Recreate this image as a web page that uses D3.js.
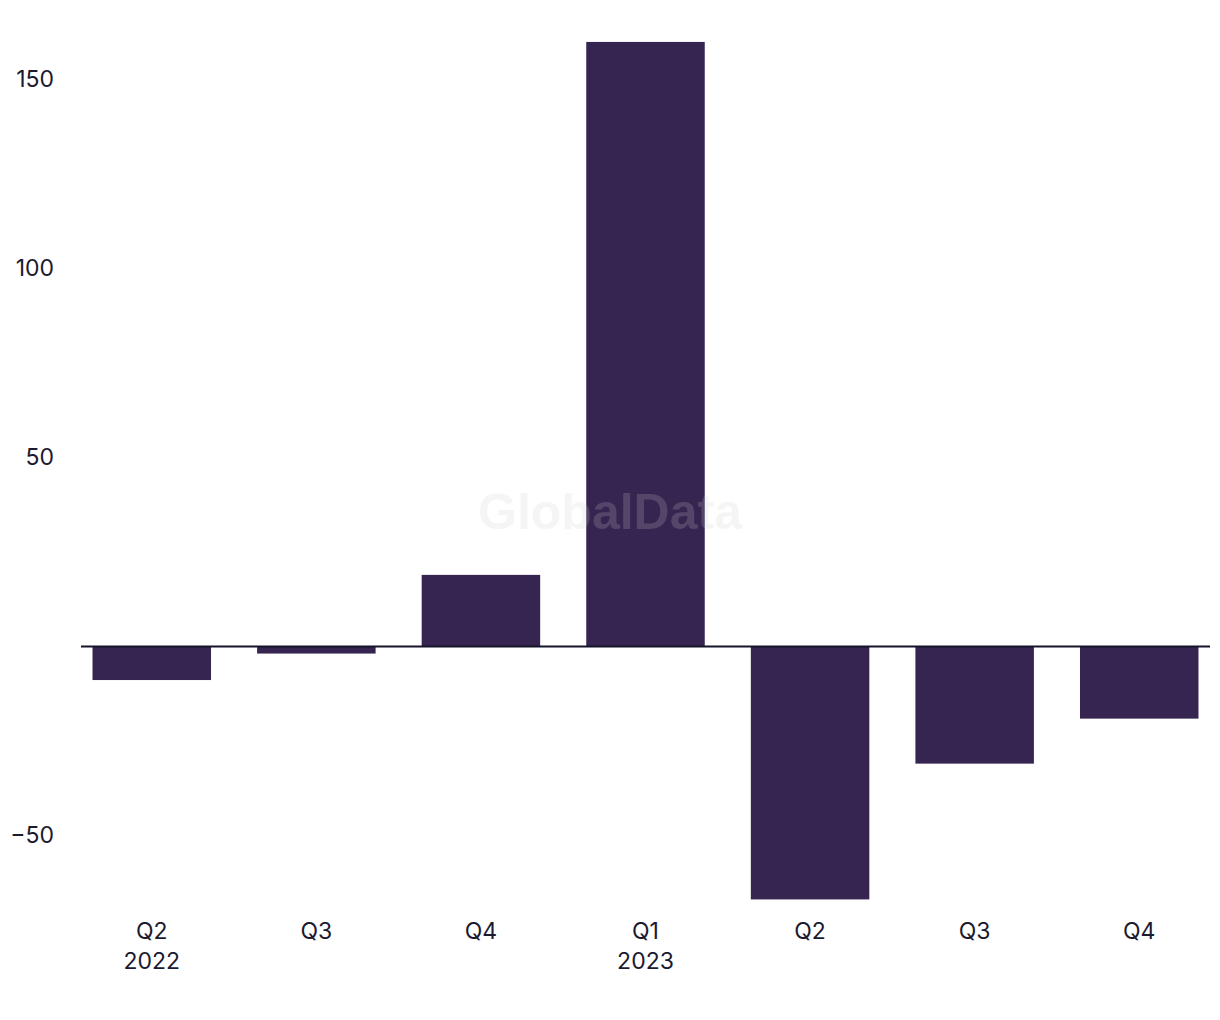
<!DOCTYPE html>
<html><head><meta charset="utf-8">
<script src="https://cdn.jsdelivr.net/npm/d3@7"></script>
<style>body{margin:0;background:#fff}svg{display:block}</style>
</head><body>
<script>
const categories = ["Q2 2022","Q3 2022","Q4 2022","Q1 2023","Q2 2023","Q3 2023","Q4 2023"];
const quarterLabels = ["Q2","Q3","Q4","Q1","Q2","Q3","Q4"];
const yearLabels = ["2022","","","2023","","",""];
const values = [-8.9, -1.9, 18.9, 159.8, -66.9, -31.0, -19.1];
const yTicks = [-50, 50, 100, 150];

const W = 1220, H = 1020;
const svg = d3.select("body").append("svg").attr("width", W).attr("height", H);

const x = d3.scaleBand().domain(categories).range([81, 1210]).paddingInner(0.28).paddingOuter(0.07);
const y = d3.scaleLinear().domain([-50, 150]).range([835.5, 79]);

const font = "Inter, 'Liberation Sans', sans-serif";
const textColor = "#1b1a2e";

// y axis labels
const yAxis = d3.axisLeft(y).tickValues(yTicks).tickSize(0).tickPadding(0).tickFormat(d => d < 0 ? "\u2212" + Math.abs(d) : d);
const gy = svg.append("g").attr("transform", "translate(54,0)").call(yAxis);
gy.select(".domain").remove();
gy.selectAll("text").attr("font-family", font).attr("font-size", 23).attr("fill", textColor);

// bars
svg.append("g").selectAll("rect").data(values).join("rect")
  .attr("x", (d, i) => x(categories[i]))
  .attr("width", x.bandwidth())
  .attr("y", d => y(Math.max(0, d)))
  .attr("height", d => Math.abs(y(d) - y(0)))
  .attr("fill", "#362451");

// zero line
svg.append("line").attr("x1", 81).attr("x2", 1210).attr("y1", y(0)).attr("y2", y(0))
  .attr("stroke", "#15142a").attr("stroke-width", 2);

// x labels
const xg = svg.append("g");
categories.forEach((c, i) => {
  const cx = x(c) + x.bandwidth() / 2;
  const t = xg.append("text").attr("x", cx).attr("y", 939).attr("text-anchor", "middle")
    .attr("font-family", font).attr("font-size", 23).attr("fill", textColor);
  t.append("tspan").attr("x", cx).text(quarterLabels[i]);
  if (yearLabels[i]) t.append("tspan").attr("x", cx).attr("dy", 30).text(yearLabels[i]);
});

// watermark
svg.append("text").attr("x", 610).attr("y", 529).attr("text-anchor", "middle")
  .attr("font-family", "'Liberation Sans', Arial, sans-serif").attr("font-weight", "bold")
  .attr("font-size", 50).attr("fill", "#cccccc").attr("fill-opacity", 0.2).text("GlobalData");
</script>
</body></html>
